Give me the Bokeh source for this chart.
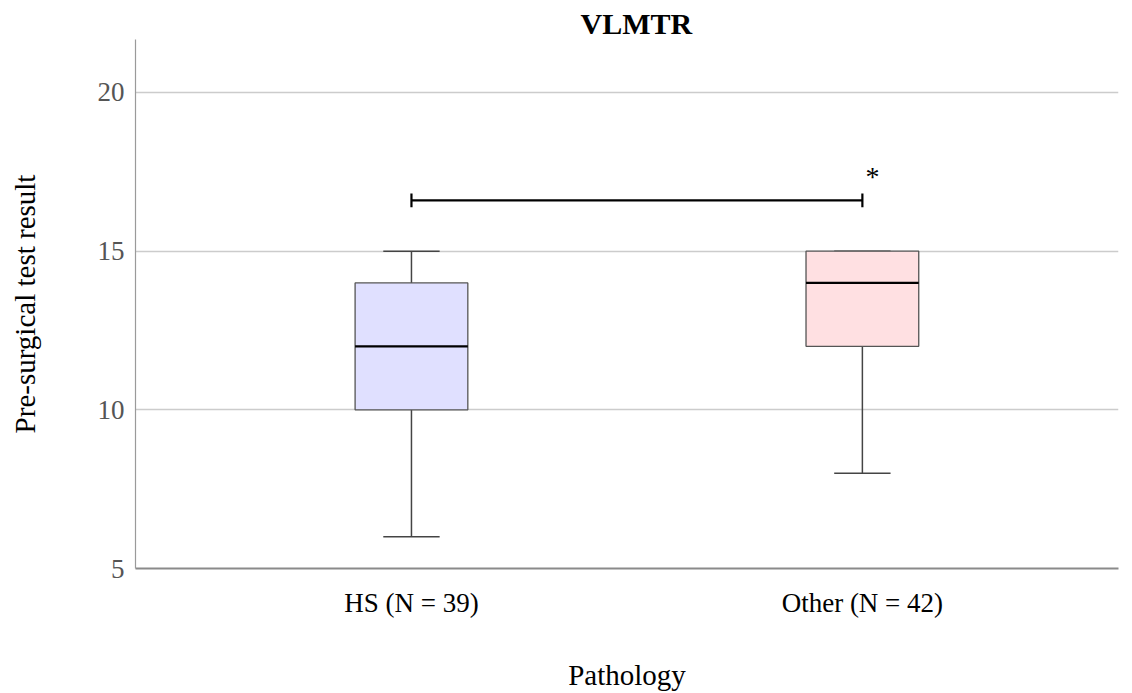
from bokeh.plotting import figure
from bokeh.models import Range1d, FixedTicker, ColumnDataSource
from bokeh.core.properties import value
from bokeh.embed import file_html
from bokeh.resources import INLINE

# ---- data ----
categories = ["HS (N = 39)", "Other (N = 42)"]
whisker_low = [6, 8]
q1 = [10, 12]
median = [12, 14]
q3 = [14, 15]
whisker_high = [15, 15]
fill_colors = ["#e0e0ff", "#ffe0e2"]
y_ticks = [5, 10, 15, 20]
sig_level = 16.6
sig_label = "*"

FONT = "Liberation Serif"
xpos = [i + 1 for i in range(len(categories))]

p = figure(width=1132, height=693, output_backend="svg", toolbar_location=None,
           x_range=Range1d(0.388, 2.568), y_range=Range1d(5, 21.67),
           min_border_left=135, min_border_right=14, min_border_top=39,
           min_border_bottom=125, background_fill_color="white",
           border_fill_color="white", outline_line_color=None)

p.title.text = "VLMTR"
p.title.align = "left"
p.title.text_font = FONT
p.title.text_font_size = "30px"
p.title.text_font_style = "bold"
p.title.text_color = "black"
p.title.offset = 445
p.title.standoff = 0

src = ColumnDataSource(dict(x=xpos, lo=whisker_low, q1=q1, med=median, q3=q3,
                            hi=whisker_high, fill=fill_colors))

# whiskers
p.segment(x0="x", y0="lo", x1="x", y1="q1", source=src, line_color="#444444", line_width=1.5)
p.segment(x0="x", y0="q3", x1="x", y1="hi", source=src, line_color="#444444", line_width=1.5)
cap = 0.0625
p.segment(x0=[x - cap for x in xpos], y0=whisker_low, x1=[x + cap for x in xpos], y1=whisker_low,
          line_color="#444444", line_width=1.5)
p.segment(x0=[x - cap for x in xpos], y0=whisker_high, x1=[x + cap for x in xpos], y1=whisker_high,
          line_color="#444444", line_width=1.5)
# boxes
p.vbar(x="x", width=0.25, bottom="q1", top="q3", source=src, fill_color="fill",
       line_color="#555555", line_width=1.3)
# medians
p.segment(x0=[x - 0.125 for x in xpos], y0=median, x1=[x + 0.125 for x in xpos], y1=median,
          line_color="black", line_width=2.2)

# significance bracket
p.segment(x0=[xpos[0]], y0=[sig_level], x1=[xpos[1]], y1=[sig_level], line_color="black", line_width=2.2)
p.segment(x0=xpos, y0=[sig_level - 0.22] * 2, x1=xpos, y1=[sig_level + 0.22] * 2,
          line_color="black", line_width=2.2)
p.text(x=[xpos[1]], y=[sig_level], text=[sig_label], x_offset=10, y_offset=-8,
       text_font=value(FONT), text_font_size="28px", text_align="center",
       text_baseline="bottom", text_color="black")

# axes
p.xgrid.grid_line_color = None
p.ygrid.ticker = FixedTicker(ticks=y_ticks)
p.ygrid.grid_line_color = "#cccccc"
p.ygrid.grid_line_width = 1.5

p.yaxis.ticker = FixedTicker(ticks=y_ticks)
p.yaxis.axis_line_color = "#9a9a9a"
p.yaxis.axis_line_width = 1.2
p.yaxis.major_tick_line_color = None
p.yaxis.major_tick_out = 0
p.yaxis.major_tick_in = 0
p.yaxis.minor_tick_line_color = None
p.yaxis.major_label_text_font = FONT
p.yaxis.major_label_text_font_size = "27px"
p.yaxis.major_label_text_color = "#555555"
p.yaxis.major_label_standoff = 11
p.yaxis.axis_label = "Pre-surgical test result"
p.yaxis.axis_label_text_font = FONT
p.yaxis.axis_label_text_font_size = "29px"
p.yaxis.axis_label_text_font_style = "normal"
p.yaxis.axis_label_text_color = "black"
p.yaxis.axis_label_standoff = 54

p.xaxis.ticker = FixedTicker(ticks=xpos)
p.xaxis.major_label_overrides = {x: c for x, c in zip(xpos, categories)}
p.xaxis.axis_line_color = "#8a8a8a"
p.xaxis.axis_line_width = 2
p.xaxis.major_tick_line_color = None
p.xaxis.major_tick_out = 0
p.xaxis.major_tick_in = 0
p.xaxis.minor_tick_line_color = None
p.xaxis.major_label_text_font = FONT
p.xaxis.major_label_text_font_size = "27px"
p.xaxis.major_label_text_color = "black"
p.xaxis.major_label_standoff = 19
p.xaxis.axis_label = "Pathology"
p.xaxis.axis_label_text_font = FONT
p.xaxis.axis_label_text_font_size = "29px"
p.xaxis.axis_label_text_font_style = "normal"
p.xaxis.axis_label_text_color = "black"
p.xaxis.axis_label_standoff = 38

open("out.html", "w").write(file_html(p, INLINE))
